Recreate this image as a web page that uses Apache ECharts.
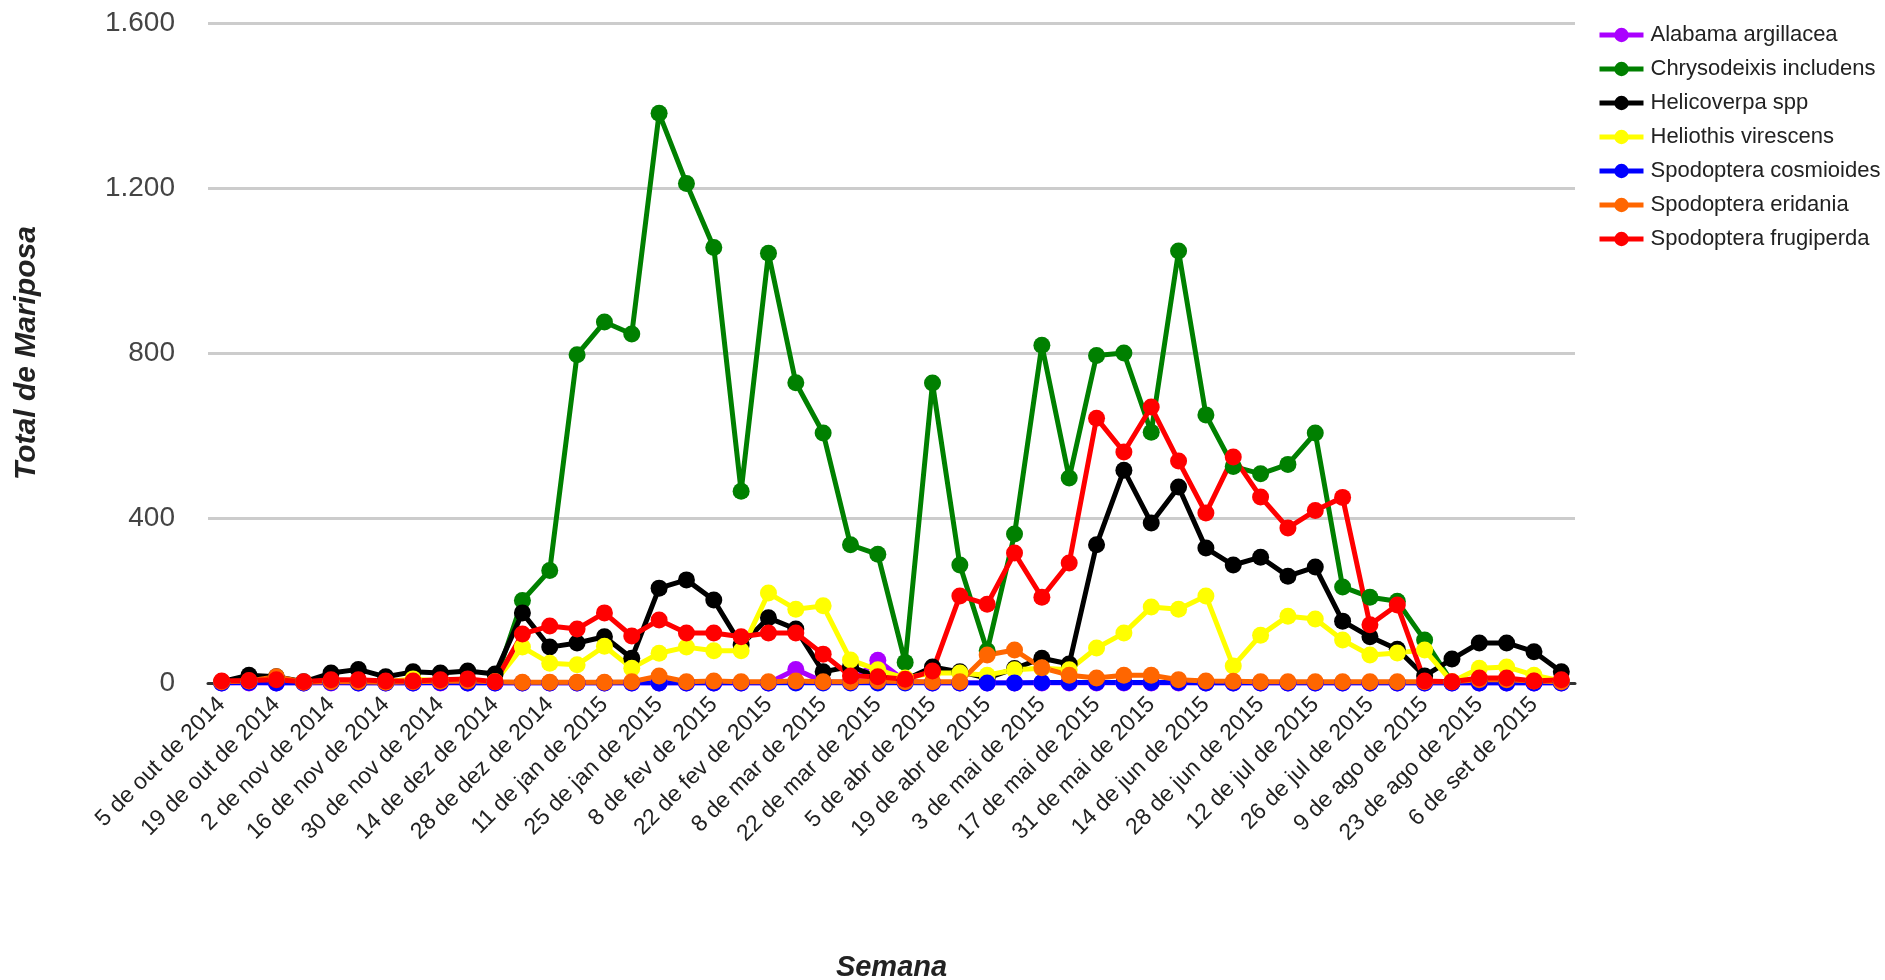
<!DOCTYPE html>
<html>
<head>
<meta charset="utf-8">
<script src="https://cdn.jsdelivr.net/npm/echarts@6/dist/echarts.min.js"></script>
<style>
html,body{margin:0;padding:0;background:#fff;}
#chart{width:1885px;height:980px;}
</style>
</head>
<body>
<div id="chart"></div>
<script>
const categories = [
  "5 de out de 2014","12 de out de 2014","19 de out de 2014","26 de out de 2014",
  "2 de nov de 2014","9 de nov de 2014","16 de nov de 2014","23 de nov de 2014",
  "30 de nov de 2014","7 de dez de 2014","14 de dez de 2014","21 de dez de 2014",
  "28 de dez de 2014","4 de jan de 2015","11 de jan de 2015","18 de jan de 2015",
  "25 de jan de 2015","1 de fev de 2015","8 de fev de 2015","15 de fev de 2015",
  "22 de fev de 2015","1 de mar de 2015","8 de mar de 2015","15 de mar de 2015",
  "22 de mar de 2015","29 de mar de 2015","5 de abr de 2015","12 de abr de 2015",
  "19 de abr de 2015","26 de abr de 2015","3 de mai de 2015","10 de mai de 2015",
  "17 de mai de 2015","24 de mai de 2015","31 de mai de 2015","7 de jun de 2015",
  "14 de jun de 2015","21 de jun de 2015","28 de jun de 2015","5 de jul de 2015",
  "12 de jul de 2015","19 de jul de 2015","26 de jul de 2015","2 de ago de 2015",
  "9 de ago de 2015","16 de ago de 2015","23 de ago de 2015","30 de ago de 2015",
  "6 de set de 2015","13 de set de 2015"
];

const seriesNames = [
  "Alabama argillacea","Chrysodeixis includens","Helicoverpa spp",
  "Heliothis virescens","Spodoptera cosmioides","Spodoptera eridania",
  "Spodoptera frugiperda"
];

const alabama = [0,0,0,0,0,0,0,0,0,0, 0,0,0,0,0,0,0,0,0,0, 0,33,3,2,55,5,0,0,0,0, 0,0,0,0,0,0,0,0,0,0, 0,0,0,0,0,0,0,0,0,0];
const chrysodeixis = [2,3,5,2,3,2,2,3,4,5, 3,200,273,796,875,846,1381,1211,1056,465, 1042,728,606,335,312,50,727,286,78,361, 819,497,794,800,608,1047,650,525,507,530, 606,233,208,198,104,2,5,4,3,2];
const helicoverpa = [3,19,15,3,24,33,15,27,24,29, 22,170,87,97,112,60,230,250,201,92, 158,131,27,40,15,8,39,27,12,35, 60,46,335,516,388,475,327,286,305,259, 281,150,112,82,17,58,97,97,76,27];
const heliothis = [2,3,5,2,4,3,3,10,5,5, 3,87,48,44,89,36,72,87,78,78, 218,179,187,56,32,12,24,24,19,32, 36,32,85,121,184,179,211,41,116,162, 155,104,68,73,80,3,36,39,19,5];
const cosmioides = [0,1,0,0,1,0,0,0,1,0, 0,0,0,0,0,0,0,0,0,0, 0,0,0,0,0,0,0,0,0,0, 1,1,1,1,1,1,0,0,0,0, 0,0,0,0,0,0,0,0,0,0];
const eridania = [3,5,15,2,3,3,2,3,4,5, 3,2,2,2,2,3,17,3,5,3, 3,5,3,3,5,3,3,3,68,80, 37,19,12,19,19,8,5,4,3,3, 3,3,3,3,3,3,8,8,5,3];
const frugiperda = [5,6,8,3,8,8,5,5,8,10, 3,119,138,131,170,114,153,121,121,112, 121,121,70,17,15,9,29,211,191,315, 208,291,642,560,669,538,412,548,451,376, 418,450,141,189,5,3,12,12,5,8];

const seriesData = [alabama, chrysodeixis, helicoverpa, heliothis, cosmioides, eridania, frugiperda];
const seriesColors = ["#aa00ff","#008000","#000000","#ffff00","#0000ff","#ff6600","#ff0000"];

const yTicks = [0, 400, 800, 1200, 1600];

const chart = echarts.init(document.getElementById('chart'), null, {renderer:'canvas'});
const FONT = "'Liberation Sans', Arial, sans-serif";

chart.setOption({
  animation: false,
  backgroundColor: '#ffffff',
  color: seriesColors,
  grid: {left: 208, right: 310, top: 23, bottom: 297, containLabel: false, outerBoundsMode: 'none'},
  legend: {
    orient: 'vertical',
    left: 1592,
    top: 19,
    itemWidth: 44,
    itemHeight: 18,
    itemGap: 12,
    data: seriesNames,
    lineStyle: {width: 5},
    textStyle: {fontFamily: FONT, fontSize: 22, color: '#222', lineHeight: 18, padding: [0,0,0,2]}
  },
  xAxis: {
    type: 'category',
    data: categories,
    boundaryGap: true,
    name: 'Semana',
    nameLocation: 'middle',
    nameGap: 270,
    nameTextStyle: {fontFamily: FONT, fontSize: 29, fontWeight: 'bold', fontStyle: 'italic', color: '#222'},
    axisLine: {show: true, lineStyle: {color: '#333', width: 3}},
    axisTick: {show: false},
    axisLabel: {interval: 1, rotate: 45, margin: 18, fontFamily: FONT, fontSize: 23, color: '#222'},
    splitLine: {show: false}
  },
  yAxis: {
    type: 'value',
    min: yTicks[0],
    max: yTicks[yTicks.length-1],
    interval: 400,
    name: 'Total de Mariposa',
    nameLocation: 'middle',
    nameGap: 166,
    nameRotate: 90,
    nameTextStyle: {fontFamily: FONT, fontSize: 30, fontWeight: 'bold', fontStyle: 'italic', color: '#222'},
    axisLine: {show: false},
    axisTick: {show: false},
    axisLabel: {
      margin: 33, fontFamily: FONT, fontSize: 28, color: '#444',
      formatter: v => String(v).replace(/\B(?=(\d{3})+(?!\d))/g, '.')
    },
    splitLine: {show: true, lineStyle: {color: '#cccccc', width: 3}}
  },
  series: seriesNames.map((name, k) => ({
    name: name,
    type: 'line',
    data: seriesData[k],
    symbol: 'circle',
    symbolSize: 17,
    showSymbol: true,
    lineStyle: {width: 5, color: seriesColors[k]},
    itemStyle: {color: seriesColors[k]},
    emphasis: {disabled: true}
  }))
});
</script>
</body>
</html>
